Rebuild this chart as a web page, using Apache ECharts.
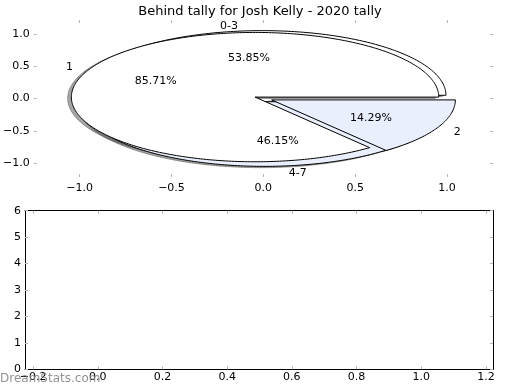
<!DOCTYPE html>
<html><head><meta charset="utf-8">
<script src="https://cdn.jsdelivr.net/npm/echarts@6/dist/echarts.min.js"></script>
<style>html,body{margin:0;padding:0;background:#fff}#c{width:520px;height:390px}</style>
</head><body><div id="c"></div><script>
// ---- data ----
const titleText = 'Behind tally for Josh Kelly - 2020 tally';
const outerLabels = ['1', '2'];
const outerValues = [6, 1];
const innerLabels = ['0-3', '4-7'];
const innerValues = [7, 6];
const pieXTicks = [-1.0, -0.5, 0.0, 0.5, 1.0];
const pieYTicks = [-1.0, -0.5, 0.0, 0.5, 1.0];
const emptyXTicks = [-0.2, 0.0, 0.2, 0.4, 0.6, 0.8, 1.0, 1.2];
const emptyYTicks = [0, 1, 2, 3, 4, 5, 6];

// ---- styles ----
const outerColors = ['#ffffff', '#e9effc'];
const innerColors = ['#ffffff', '#e9effc'];
const explodeDist = 0.05;
const shadowOff = -0.02;
const FONT = 'DejaVu Sans';
const tickGray = '#b5b5b5';

function buildWedges(labels, values, colors, explode) {
  const total = values.reduce((a, b) => a + b, 0);
  let a = 0;
  return values.map((v, i) => {
    const a1 = a; a += 360 * v / total;
    const mid = (a1 + a) / 2 * Math.PI / 180;
    return { name: labels[i], value: [a1, a, Math.cos(mid) * explode, Math.sin(mid) * explode, v / total * 100],
             itemStyle: { color: colors[i] } };
  });
}
const outerW = buildWedges(outerLabels, outerValues, outerColors, explodeDist);
const innerW = buildWedges(innerLabels, innerValues, innerColors, explodeDist);

function wedgePoints(api, off) {
  const a1 = api.value(0), a2 = api.value(1), dx = api.value(2) + off, dy = api.value(3) + off;
  const pts = [api.coord([dx, dy])];
  const n = Math.max(4, Math.ceil((a2 - a1) / 1));
  for (let k = 0; k <= n; k++) {
    const t = (a1 + (a2 - a1) * k / n) * Math.PI / 180;
    pts.push(api.coord([dx + Math.cos(t), dy + Math.sin(t)]));
  }
  return pts;
}
function renderWedge(params, api) {
  return { type: 'polygon', shape: { points: wedgePoints(api, 0) },
    style: { fill: api.visual('color'), stroke: '#000', lineWidth: 1 } };
}
function renderShadow(params, api) {
  return { type: 'polygon', shape: { points: wedgePoints(api, shadowOff) },
    style: { fill: 'rgba(77,77,77,0.5)', stroke: 'rgba(77,77,77,0.5)', lineWidth: 1 } };
}
function renderText(params, api) {
  const a1 = api.value(0), a2 = api.value(1), dx = api.value(2), dy = api.value(3), pct = api.value(4);
  const mid = (a1 + a2) / 2 * Math.PI / 180;
  const c = Math.cos(mid), s = Math.sin(mid);
  const lp = api.coord([dx + 1.1 * c, dy + 1.1 * s]);
  const pp = api.coord([dx + 0.6 * c, dy + 0.6 * s]);
  const name = params.seriesIndex === 4 ? outerLabels[params.dataIndex] : innerLabels[params.dataIndex];
  return { type: 'group', children: [
    { type: 'text', x: lp[0], y: lp[1] + 1, style: { text: name, fill: '#000', font: '11px "' + FONT + '"',
      align: (1.1 * c + dx) < 0 ? 'right' : 'left', verticalAlign: 'middle' } },
    { type: 'text', x: pp[0], y: pp[1] + 1, style: { text: pct.toFixed(2) + '%', fill: '#000', font: '11px "' + FONT + '"',
      align: 'center', verticalAlign: 'middle' } }
  ] };
}
const fmt1 = v => (v < -1e-9 ? '\u2212' : '') + Math.abs(v).toFixed(1);
const fmt0 = v => String(Math.round(v));

function mkAxis(grid, pos, min, max, ticks, fmt, showLabel, showLine, margin) {
  return {
    type: 'value', gridIndex: grid, position: pos, min: min, max: max,
    axisLine: { show: showLine, onZero: false, lineStyle: { color: '#000', width: 1 } },
    axisTick: { show: true, inside: true, length: 3, customValues: ticks, lineStyle: { color: tickGray, width: 1 } },
    axisLabel: { show: showLabel, customValues: ticks, formatter: fmt, margin: margin,
      fontFamily: FONT, fontSize: 11, color: '#000' },
    splitLine: { show: false }
  };
}

const chart = echarts.init(document.getElementById('c'), null, { renderer: 'canvas' });
chart.setOption({
  animation: false,
  backgroundColor: '#fff',
  title: { text: titleText, left: 'center', top: 0,
    textStyle: { fontFamily: FONT, fontSize: 13, fontWeight: 'normal', color: '#000' } },
  grid: [
    { left: 26, right: 27, top: 20, bottom: 213 },
    { left: 25, right: 27, top: 210.7, bottom: 20.7 }
  ],
  xAxis: [
    mkAxis(0, 'bottom', -1.25, 1.25, pieXTicks, fmt1, true, false, 6),
    mkAxis(0, 'top', -1.25, 1.25, pieXTicks, fmt1, false, false, 4),
    mkAxis(1, 'bottom', -0.225, 1.222, emptyXTicks, fmt1, true, true, 2),
    mkAxis(1, 'top', -0.225, 1.222, emptyXTicks, fmt1, false, true, 2)
  ],
  yAxis: [
    mkAxis(0, 'left', -1.214, 1.214, pieYTicks, fmt1, true, false, 4),
    mkAxis(0, 'right', -1.214, 1.214, pieYTicks, fmt1, false, false, 4),
    mkAxis(1, 'left', 0, 6, emptyYTicks, fmt0, true, true, 4),
    mkAxis(1, 'right', 0, 6, emptyYTicks, fmt0, false, true, 4)
  ],
  series: [
    { type: 'custom', xAxisIndex: 0, yAxisIndex: 0, renderItem: renderShadow, data: innerW, z: 1, silent: true },
    { type: 'custom', xAxisIndex: 0, yAxisIndex: 0, renderItem: renderShadow, data: outerW, z: 1, silent: true },
    { type: 'custom', xAxisIndex: 0, yAxisIndex: 0, renderItem: renderWedge, data: innerW, z: 2, silent: true },
    { type: 'custom', xAxisIndex: 0, yAxisIndex: 0, renderItem: renderWedge, data: outerW, z: 3, silent: true },
    { type: 'custom', xAxisIndex: 0, yAxisIndex: 0, renderItem: renderText, data: outerW, z: 5, silent: true },
    { type: 'custom', xAxisIndex: 0, yAxisIndex: 0, renderItem: renderText, data: innerW, z: 5, silent: true }
  ],
  graphic: [
    { type: 'text', left: 0, top: 373, z: 100, style: { text: 'DreamStats.com', fill: 'rgba(128,128,128,0.85)',
      font: '12px "' + FONT + '"' } }
  ]
});
</script></body></html>
